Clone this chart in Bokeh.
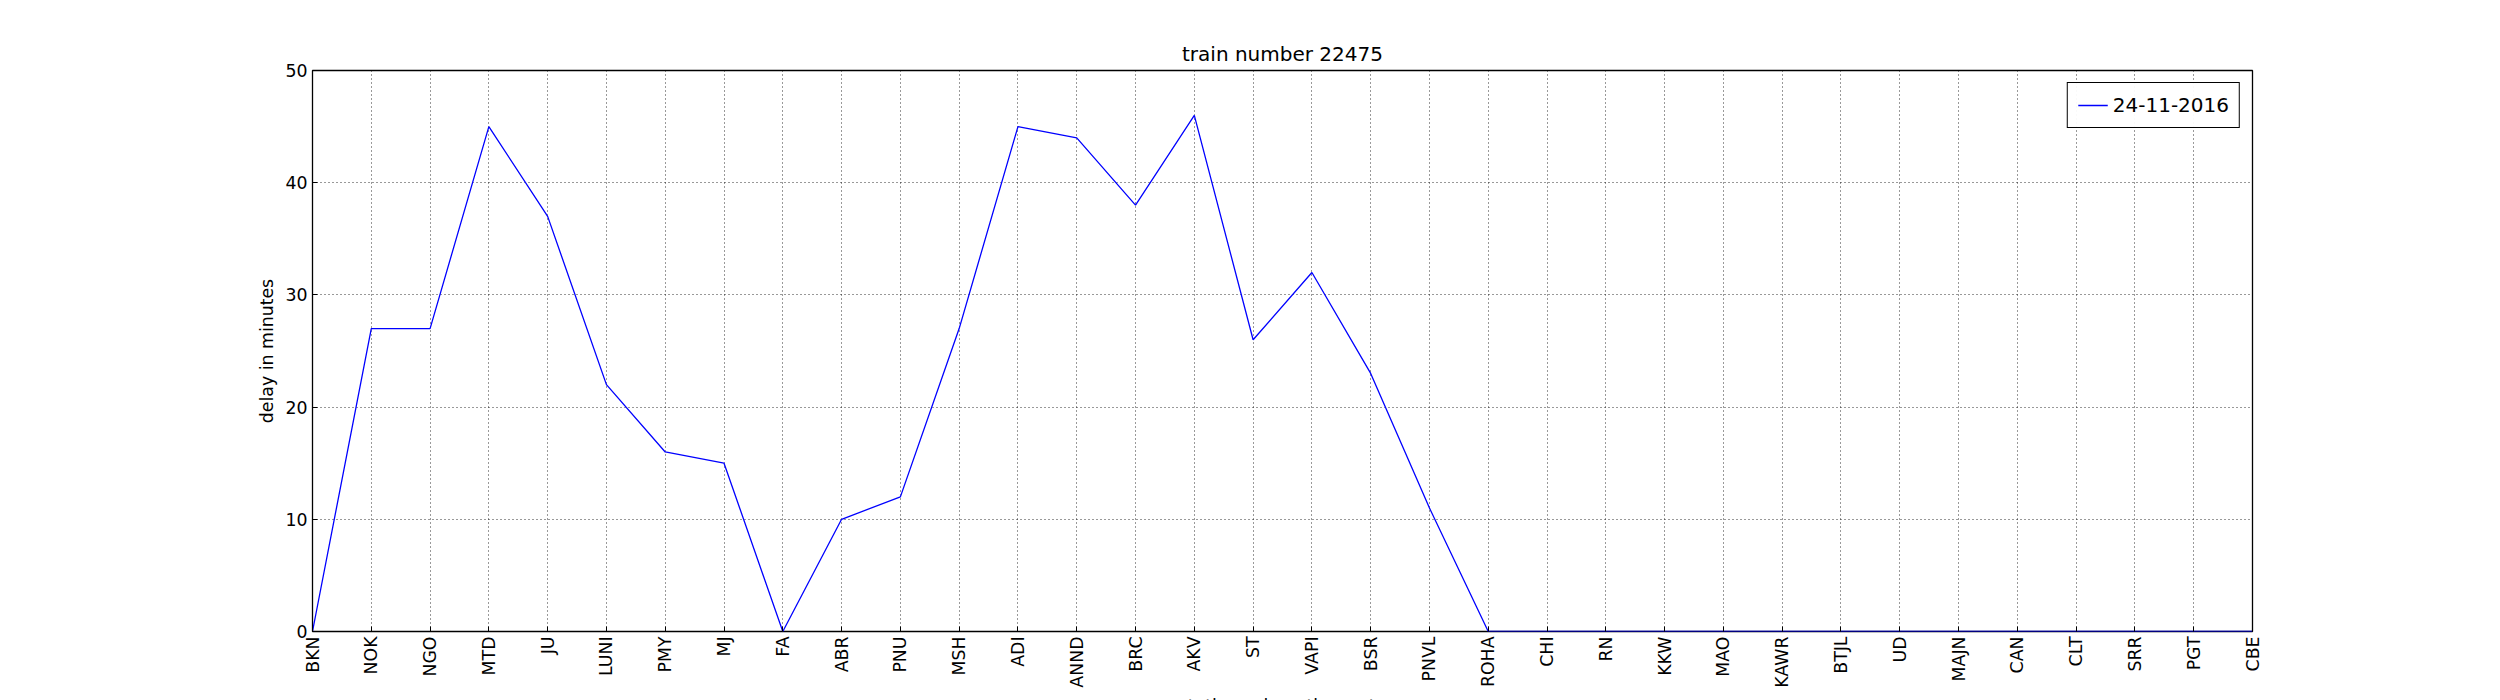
import math
from bokeh.plotting import figure
from bokeh.models import Range1d, FixedTicker, Legend, LegendItem
from bokeh.embed import file_html
from bokeh.resources import INLINE

stations = ["BKN", "NOK", "NGO", "MTD", "JU", "LUNI", "PMY", "MJ", "FA", "ABR", "PNU",
            "MSH", "ADI", "ANND", "BRC", "AKV", "ST", "VAPI", "BSR", "PNVL", "ROHA",
            "CHI", "RN", "KKW", "MAO", "KAWR", "BTJL", "UD", "MAJN", "CAN", "CLT",
            "SRR", "PGT", "CBE"]
delay = [0, 27, 27, 45, 37, 22, 16, 15, 0, 10, 12,
         27, 45, 44, 38, 46, 26, 32, 23, 11, 0,
         0, 0, 0, 0, 0, 0, 0, 0, 0, 0,
         0, 0, 0]
idx = list(range(len(stations)))

p = figure(width=2484, height=718, output_backend="svg", toolbar_location=None,
           x_range=Range1d(0, len(stations) - 1), y_range=Range1d(0, 50),
           min_border_left=312, min_border_right=232, min_border_top=70, min_border_bottom=30,
           title="train number 22475")
p.title.align = "center"
p.title.text_font = "DejaVu Sans"
p.title.text_font_size = "15pt"
p.title.text_font_style = "normal"
p.title.text_color = "black"

r = p.line(idx, delay, line_color="blue", line_width=1.3)

p.xaxis.ticker = FixedTicker(ticks=idx)
p.xaxis.major_label_overrides = {i: s for i, s in enumerate(stations)}
p.xaxis.major_label_orientation = math.pi / 2
p.yaxis.ticker = FixedTicker(ticks=[0, 10, 20, 30, 40, 50])
p.xaxis.axis_label = "stations along the route"
p.yaxis.axis_label = "delay in minutes"
for ax in (p.xaxis, p.yaxis):
    ax.major_label_text_font = "DejaVu Sans"
    ax.major_label_text_font_size = "13pt"
    ax.axis_label_text_font = "DejaVu Sans"
    ax.axis_label_text_font_size = "13pt"
    ax.axis_label_text_font_style = "normal"
    ax.axis_label_text_color = "black"
    ax.major_tick_in = 5
    ax.major_tick_out = 0
    ax.minor_tick_line_color = None
    ax.axis_line_color = None
    ax.major_label_text_color = "black"
p.outline_line_color = "black"
p.outline_line_width = 1.3
p.outline_line_alpha = 1
p.grid.grid_line_color = "black"
p.grid.grid_line_alpha = 0.8
p.grid.grid_line_dash = "1 3"

legend = Legend(items=[LegendItem(label="24-11-2016", renderers=[r])], location="top_right")
legend.label_text_font = "DejaVu Sans"
legend.label_text_font_size = "15pt"
legend.label_text_color = "black"
legend.border_line_color = "black"
legend.border_line_alpha = 1
legend.border_line_width = 1.3
legend.glyph_width = 30
legend.margin = 12
p.add_layout(legend)

open("out.html", "w").write(file_html(p, INLINE))
